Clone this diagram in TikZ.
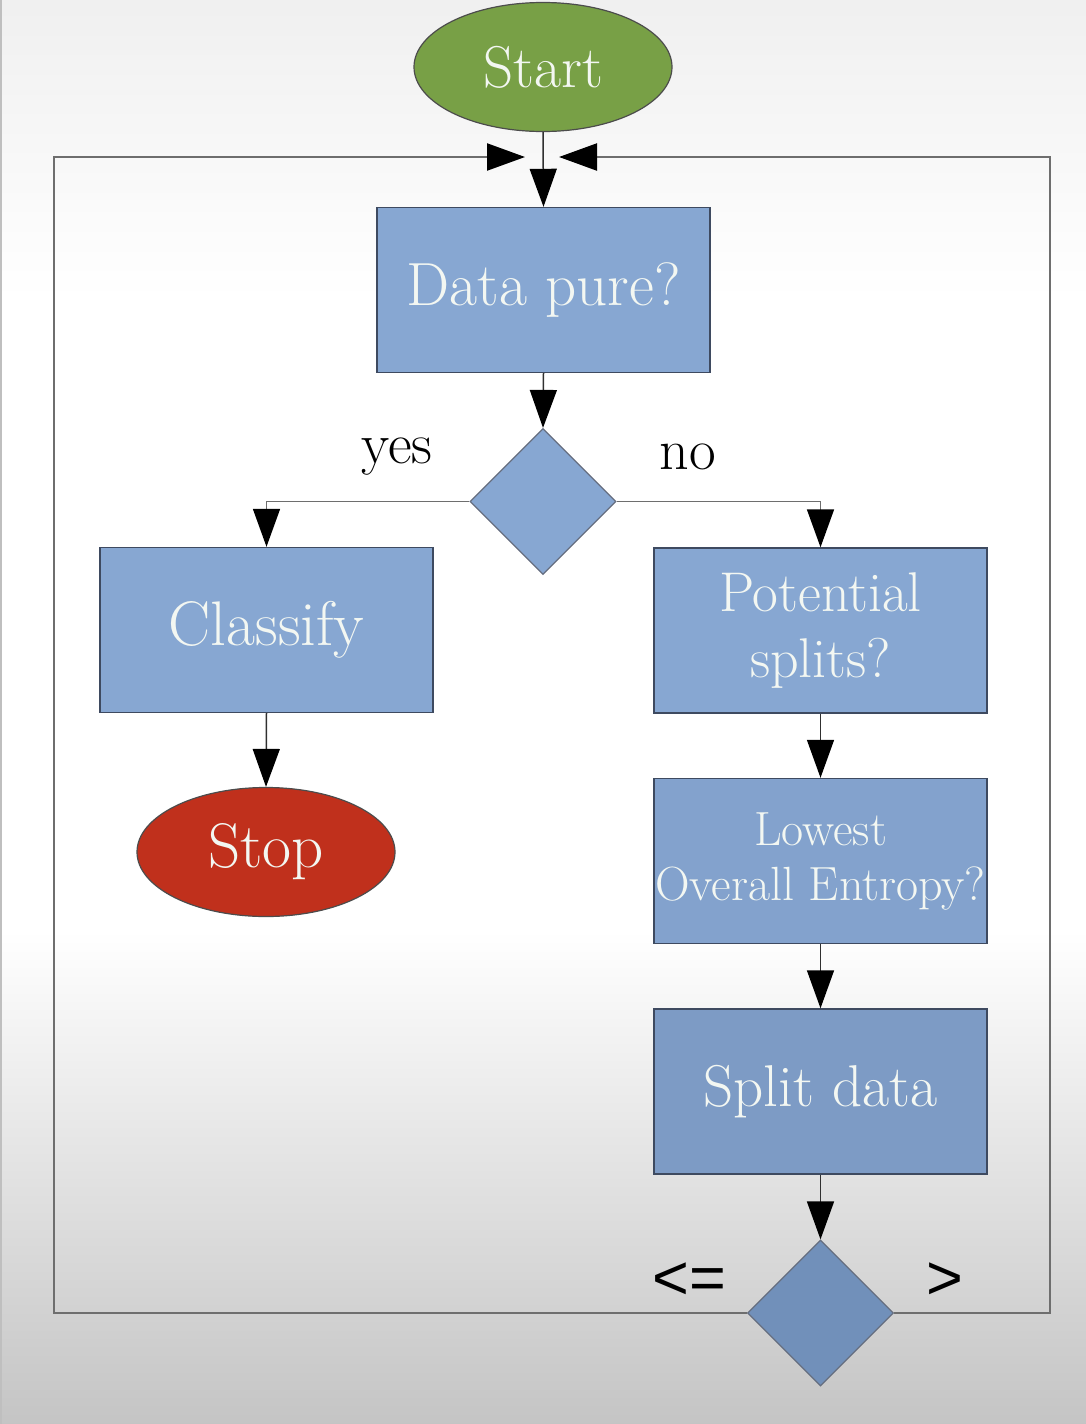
\documentclass[tikz,border=0pt]{standalone}
\usepackage{fontspec}
\newfontfamily\labsans{Liberation Sans}
\usetikzlibrary{shapes.geometric,arrows.meta}
\definecolor{boxblue}{HTML}{87A7D2}
\definecolor{boxblueB}{HTML}{83A2CD}
\definecolor{boxblueC}{HTML}{7D9BC5}
\definecolor{boxblueD}{HTML}{7190BA}
\definecolor{boxedge}{HTML}{3E4A60}
\definecolor{startgreen}{HTML}{78A046}
\definecolor{stopred}{HTML}{C0301C}
\definecolor{txtwhite}{HTML}{F3F7F2}
\definecolor{loopgray}{HTML}{6E6E6E}
\definecolor{arrgray}{HTML}{303030}
\begin{document}
\begin{tikzpicture}[x=1pt,y=-1pt,
  procbox/.style={rectangle, draw=boxedge, line width=1.4pt, fill=#1,
    minimum width=333pt, minimum height=165pt, inner sep=0pt,
    text=txtwhite, align=center},
  procbox/.default=boxblue,
  termnode/.style={ellipse, draw=black!70, line width=1.2pt, fill=#1,
    minimum width=258pt, minimum height=129pt, inner sep=0pt, text=txtwhite},
  decide/.style={diamond, draw=boxedge!80, line width=1.2pt, fill=#1,
    minimum width=146pt, minimum height=146pt, inner sep=0pt, aspect=1},
  decide/.default=boxblue,
  arr/.style={draw=arrgray, line width=1.5pt, -{Triangle[length=38pt,width=27pt,color=black]}},
  branch/.style={draw=loopgray, line width=1.6pt, -{Triangle[length=38pt,width=27pt,color=black]}},
  loopline/.style={draw=loopgray, line width=2.2pt, -{Triangle[length=38pt,width=27pt,color=black]}},
  lab/.style={text=black, font=\fontsize{58}{62}\selectfont, inner sep=0pt},
  labs/.style={text=black, font=\labsans\fontsize{63}{66}\selectfont, inner sep=0pt}
]
% background
\useasboundingbox (0,0) rectangle (1086,1424);
\shade[top color=black!6, bottom color=white] (0,0) rectangle (1086,300);
\fill[white] (0,300) rectangle (1086,930);
\shade[top color=white, bottom color=black!23] (0,930) rectangle (1086,1424);
\draw[black!25, line width=2pt] (1,0) -- (1,1424);

% nodes
\node[termnode=startgreen, font=\fontsize{59}{62}\selectfont] (start) at (543,67) {Start};
\node[procbox, font=\fontsize{61}{64}\selectfont] (pure) at (543.5,290) {Data pure?};
\node[decide] (d1) at (543,501.5) {};
\node[procbox, font=\fontsize{63}{66}\selectfont] (classify) at (266.5,630) {Classify};
\node[termnode=stopred, font=\fontsize{63}{66}\selectfont] (stop) at (266,852) {Stop};
\node[procbox, font=\fontsize{56}{66}\selectfont] (pot) at (820.5,630.5) {Potential\\splits?};
\node[procbox=boxblueB, font=\fontsize{48}{55}\selectfont] (low) at (820.5,861) {Lowest\\Overall Entropy?};
\node[procbox=boxblueC, font=\fontsize{59}{62}\selectfont] (split) at (820.5,1091.5) {Split data};
\node[decide=boxblueD] (d2) at (820.5,1313) {};

% labels
\node[lab] (yeslab) at (397,457) {yes};
\node[lab] (nolab) at (688,457) {no};
\node[labs] (lelab) at (689,1281) {<=};
\node[labs] (gtlab) at (945,1281) {>};

% loop coordinates
\coordinate (mergeL) at (525,157);
\coordinate (mergeR) at (559,157);
\coordinate (cornerL) at (54,157);
\coordinate (cornerR) at (1050,157);

% connectors
\draw[loopline] (d2.west) -| (cornerL) -- (mergeL);
\draw[loopline] (d2.east) -| (cornerR) -- (mergeR);
\draw[arr] (start.south) -- (pure.north);
\draw[arr] (pure.south) -- (d1.north);
\draw[branch] (d1.west) -| (classify.north);
\draw[branch] (d1.east) -| (pot.north);
\draw[arr] (classify.south) -- (stop.north);
\draw[arr] (pot.south) -- (low.north);
\draw[arr] (low.south) -- (split.north);
\draw[arr] (split.south) -- (d2.north);
\end{tikzpicture}
\end{document}
